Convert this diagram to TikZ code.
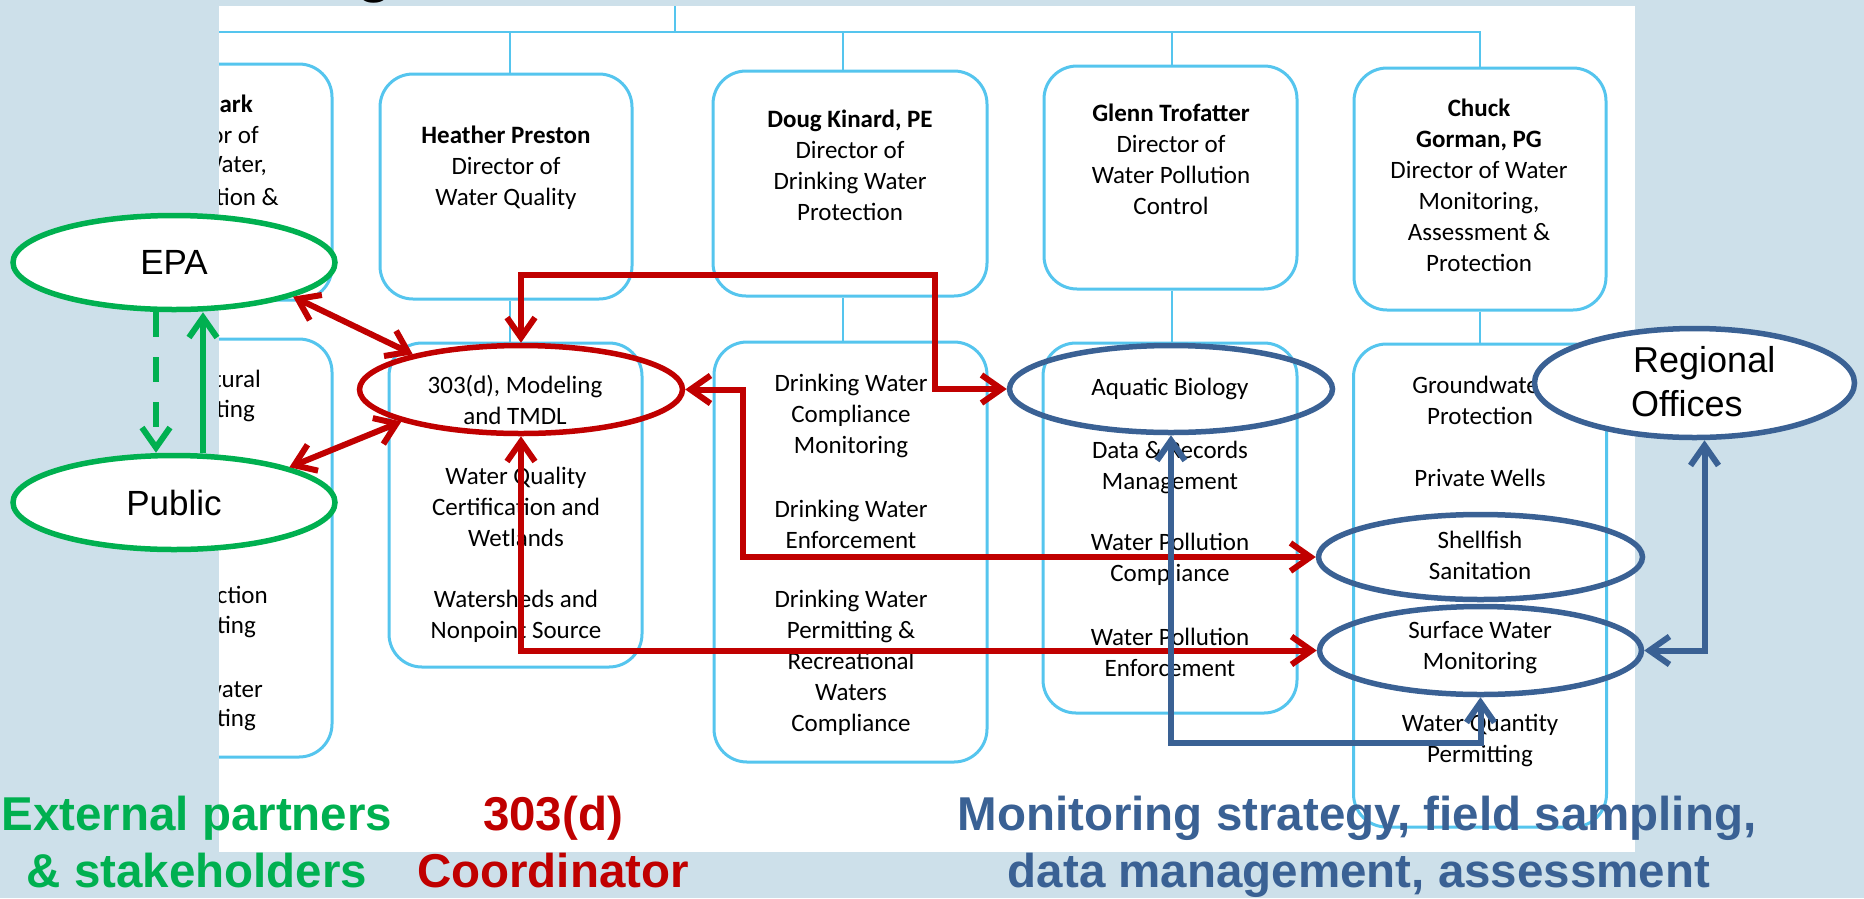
\documentclass[tikz,border=0pt]{standalone}
\usepackage{fontspec}
\setmainfont{Liberation Sans}
\newfontfamily\boxfont{Carlito}
\usetikzlibrary{arrows.meta,shapes.geometric}

\definecolor{bgblue}{RGB}{205,224,234}
\definecolor{orgline}{RGB}{85,197,238}
\definecolor{hlred}{RGB}{192,0,0}
\definecolor{hlgreen}{RGB}{0,176,80}
\definecolor{hlblue}{RGB}{58,97,148}

\tikzset{
  orgbox/.style={draw=orgline, line width=3pt, rounded corners=33pt, inner sep=0pt},
  conn/.style={draw=orgline, line width=2pt},
  item/.style={font=\boxfont\fontsize{25}{31}\selectfont, align=center, inner sep=0pt},
  cutitem/.style={font=\boxfont\fontsize{25}{31}\selectfont, inner sep=0pt, anchor=east},
  hlellipse/.style={ellipse, line width=5.5pt, inner sep=0pt},
  link/.style={line width=6pt, >={Straight Barb[length=20pt,width=28pt]}},
  redlink/.style={link, draw=hlred, <->},
  bluelink/.style={link, draw=hlblue, <->},
  greenlink/.style={link, draw=hlgreen},
  bubble/.style={font=\fontsize{35}{42}\selectfont},
  caption/.style={font=\fontsize{47.5}{57}\selectfont\bfseries, inner sep=0pt, anchor=base}
}

\begin{document}
\begin{tikzpicture}[x=1pt, y=-1pt]
\useasboundingbox (0,0) rectangle (1864,898);
\fill[bgblue] (0,0) rectangle (1864,898);

% descender of the slide title above the chart
\node[font=\fontsize{60}{60}\selectfont\bfseries, anchor=base, inner sep=0pt] (titleg) at (375,-10) {g};

% white chart panel
\fill[white] (219,6) rectangle (1635,852);

\begin{scope}
\clip (219,6) rectangle (1635,852);

% director boxes
\node[orgbox, minimum width=260pt, minimum height=236pt] (dirA) at (202,182) {};
\node[orgbox, minimum width=252pt, minimum height=225pt] (dirB) at (506,186.5) {};
\node[orgbox, minimum width=274pt, minimum height=225pt] (dirC) at (850,183.5) {};
\node[orgbox, minimum width=253pt, minimum height=223pt] (dirD) at (1170.5,177.5) {};
\node[orgbox, minimum width=252pt, minimum height=242pt] (dirE) at (1480,189) {};

% program boxes
\node[orgbox, minimum width=260pt, minimum height=418pt] (progA) at (202,548) {};
\node[orgbox, minimum width=253pt, minimum height=324pt] (progB) at (515.5,505) {};
\node[orgbox, minimum width=273pt, minimum height=420pt] (progC) at (850.5,552) {};
\node[orgbox, minimum width=254pt, minimum height=370pt] (progD) at (1170,528) {};
\node[orgbox, minimum width=253pt, minimum height=483pt] (progE) at (1480,585.5) {};

% reporting lines
\coordinate (parent) at (675,6);
\coordinate (busL) at (150,32);
\draw[conn] (parent) -- (parent |- busL);
\draw[conn] (busL) -| (dirE.north);
\coordinate (dropB) at ([xshift=4pt]dirB.north);
\coordinate (dropC) at ([xshift=-7pt]dirC.north);
\coordinate (dropD) at ([xshift=1.5pt]dirD.north);
\draw[conn] (dropB) -- (dropB |- busL);
\draw[conn] (dropC) -- (dropC |- busL);
\draw[conn] (dropD) -- (dropD |- busL);
\draw[conn] (dropB |- dirB.south) -- (dropB |- progB.north);
\draw[conn] (dropC |- dirC.south) -- (dropC |- progC.north);
\draw[conn] (dropD |- dirD.south) -- (dropD |- progD.north);
\draw[conn] (dirE.south) -- (progE.north);

% director titles
\node[cutitem] (txtA1) at (253,104) {\bfseries Clark};
\node[cutitem] (txtA2) at (259,135) {Director of};
\node[cutitem] (txtA3) at (267,166) {Water,};
\node[cutitem] (txtA4) at (279,197) {Protection \&};
\node[item] (txtB) at (506,168) {\textbf{Heather Preston}\\Director of\\Water Quality};
\node[item] (txtC) at (850,165.5) {\textbf{Doug Kinard, PE}\\Director of\\Drinking Water\\Protection};
\node[item] (txtD) at (1171,159.5) {\textbf{Glenn Trofatter}\\Director of\\Water Pollution\\Control};
\node[item] (txtE) at (1479,185) {\textbf{Chuck}\\\textbf{Gorman, PG}\\Director of Water\\Monitoring,\\Assessment \&\\Protection};

% programs
\node[cutitem] (pA1) at (261,379) {Structural};
\node[cutitem] (pA2) at (255,411) {Permitting};
\node[cutitem] (pA3) at (268,595) {Construction};
\node[cutitem] (pA4) at (256,627) {Permitting};
\node[cutitem] (pA5) at (263,689) {Stormwater};
\node[cutitem] (pA6) at (256,720) {Permitting};

\node[item] (pB1) at (515,400) {303(d), Modeling\\and TMDL};
\node[item] (pB2) at (516,507) {Water Quality\\Certification and\\Wetlands};
\node[item] (pB3) at (516,616) {Watersheds and\\Nonpoint Source};

\node[item] (pC1) at (851,416) {Drinking Water\\Compliance\\Monitoring};
\node[item] (pC2) at (851,524) {Drinking Water\\Enforcement};
\node[item] (pC3) at (851,663) {Drinking Water\\Permitting \&\\Recreational\\Waters\\Compliance};

\node[item] (pD1) at (1170,389) {Aquatic Biology};
\node[item] (pD2) at (1170,467) {Data \& Records\\Management};
\node[item] (pD3) at (1170,559) {Water Pollution\\Compliance};
\node[item] (pD4) at (1170,652) {Water Pollution\\Enforcement};

\node[item] (pE1) at (1480,400.5) {Groundwater\\Protection};
\node[item] (pE2) at (1480,478) {Private Wells};
\node[item] (pE3) at (1480,555) {Shellfish\\Sanitation};
\node[item] (pE4) at (1480,647.5) {Surface Water\\Monitoring};
\node[item] (pE5) at (1480,740.5) {Water Quantity\\Permitting};
\end{scope}

% highlighted programs
\node[hlellipse, draw=hlred, minimum width=323pt, minimum height=88pt] (tmdl) at (521,389.5) {};
\node[hlellipse, draw=hlblue, minimum width=323pt, minimum height=87pt] (aqua) at (1171,389) {};
\node[hlellipse, draw=hlblue, minimum width=324pt, minimum height=85pt] (shell) at (1480.5,557) {};
\node[hlellipse, draw=hlblue, minimum width=322pt, minimum height=88pt] (surf) at (1480.5,650.5) {};

% outside partners
\node[hlellipse, bubble, draw=hlgreen, fill=white, minimum width=322pt, minimum height=94pt] (epa) at (174,262.5) {EPA};
\node[hlellipse, bubble, draw=hlgreen, fill=white, minimum width=322pt, minimum height=94pt] (pub) at (174,502.5) {Public};
\node[hlellipse, draw=hlblue, fill=white, minimum width=320pt, minimum height=109pt] (reg) at (1694.5,383) {};
\node[font=\fontsize{36}{44}\selectfont, anchor=base west, inner sep=0pt] (regtxt1) at (1633,372) {Regional};
\node[font=\fontsize{36}{44}\selectfont, anchor=base west, inner sep=0pt] (regtxt2) at (1631,416) {Offices};

% 303(d) coordination links
\draw[redlink] (epa.-16) -- (tmdl.162);
\draw[redlink] (pub.17) -- (tmdl.-165);
\coordinate (loopTop) at (935,275);
\draw[redlink] (tmdl.north) |- (loopTop) |- (aqua.west);
\coordinate (bendShell) at (743,557);
\draw[redlink] (tmdl.east) -| (bendShell) -- (shell.west);
\draw[redlink] (tmdl.south) |- (surf.west);

% monitoring links
\coordinate (bendData) at (1300,743);
\draw[bluelink] (aqua.south) |- (bendData) -| (surf.south);
\draw[bluelink] ([xshift=10pt]reg.south) |- (surf.east);

% partner links
\draw[greenlink, dash pattern=on 25pt off 20pt, ->] ([xshift=-18pt]epa.south) -- ([xshift=-18pt]pub.north);
\draw[greenlink, ->] ([xshift=29pt]pub.north) -- ([xshift=29pt]epa.south);

% group captions
\node[caption, text=hlgreen] (ext1) at (197,830) {External partners};
\node[caption, text=hlgreen] (ext2) at (197,887) {\& stakeholders};
\node[caption, text=hlred] (coord1) at (553,830) {303(d)};
\node[caption, text=hlred] (coord2) at (553,887) {Coordinator};
\node[caption, text=hlblue] (mon1) at (1357,830) {Monitoring strategy, field sampling,};
\node[caption, text=hlblue] (mon2) at (1359,887) {data management, assessment};
\end{tikzpicture}
\end{document}
